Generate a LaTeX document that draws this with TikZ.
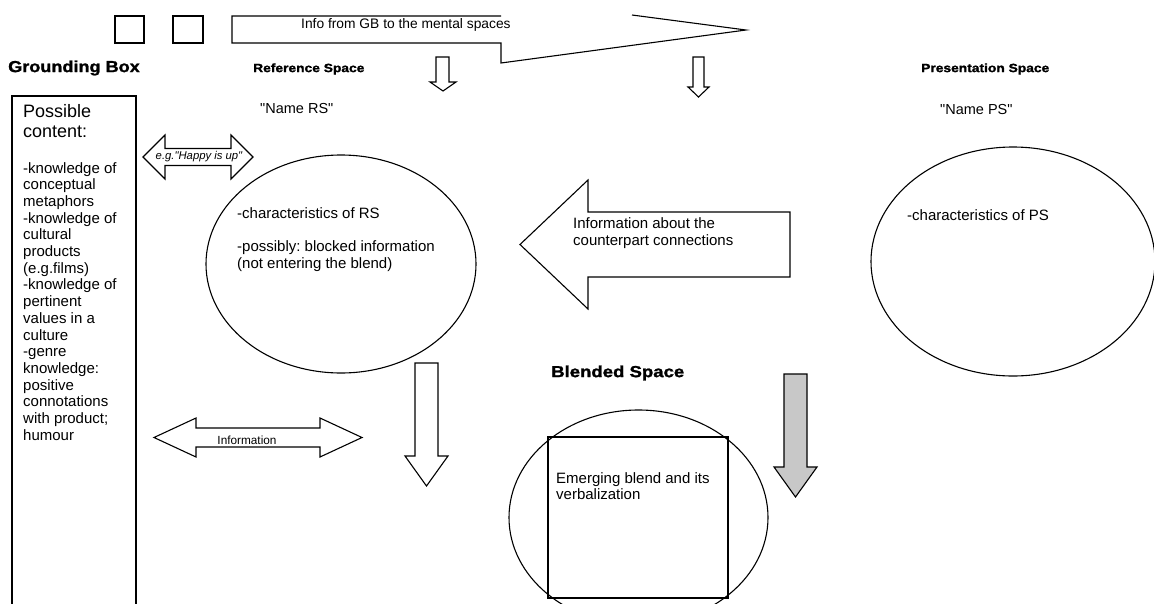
\documentclass[tikz,border=0pt]{standalone}
\usepackage{fontspec}
\setmainfont{Liberation Sans}[Ligatures=TeXOff]
\newfontfamily\heavyfont[FakeBold=1.3]{Liberation Sans Bold}
\newcommand\myhead[3]{\scalebox{#3}[1]{\fontsize{#1}{#1}\selectfont\heavyfont #2}}
\frenchspacing
\begin{document}
\begin{tikzpicture}[x=1pt,y=-1pt,
  shp/.style={draw=black,line width=1.1pt,line join=miter},
  txt/.style={inner sep=0pt,anchor=north west,align=left,font=\fontsize{15}{16.7}\selectfont},
  lbl/.style={inner sep=0pt,anchor=west}]
\clip (0,0) rectangle (1154,603);
\fill[white] (0,0) rectangle (1154,603);

% top small boxes and callout
\draw[shp] (115,16) rectangle (144,43);
\draw[shp] (173,16) rectangle (203,43);
\draw[shp] (501,16) -- (232,16) -- (232,43) -- (501,43) -- (501,63) -- (746,30) -- (632,15);
\node[lbl,font=\fontsize{13.8}{15}\selectfont] (info) at (301,25) {Info from GB to the mental spaces};

% small down arrows
\draw[shp] (436,57) -- (449,57) -- (449,82) -- (456,82) -- (443,91) -- (430,82) -- (436,82) -- cycle;
\draw[shp] (693,57) -- (704,57) -- (704,87) -- (709,87) -- (698.5,97) -- (688,87) -- (693,87) -- cycle;

% headings
\node[lbl] (gbh) at (8,68) {\myhead{16}{Grounding Box}{1.13}};
\node[lbl] (rsh) at (253,69) {\myhead{12}{Reference Space}{1.15}};
\node[lbl] (psh) at (921,69) {\myhead{12}{Presentation Space}{1.15}};
\node[lbl] (bsh) at (551,373) {\myhead{16}{Blended Space}{1.16}};

\node[lbl,font=\fontsize{14.5}{16}\selectfont] (nrs) at (260,108.5) {"Name RS"};
\node[lbl,font=\fontsize{14.5}{16}\selectfont] (nps) at (940,110) {"Name PS"};

% grounding box
\draw[shp] (12,96) rectangle (136,640);
\node[txt,font=\fontsize{18}{20}\selectfont] (poss) at (23,104) {Possible\\content:};
\node[txt] (gbtext) at (23,162) {-knowledge of\\conceptual\\metaphors\\-knowledge of\\cultural\\products\\(e.g.films)\\-knowledge of\\pertinent\\values in a\\culture\\-genre\\knowledge:\\positive\\connotations\\with product;\\humour};

% e.g. double arrow
\draw[shp] (143,157) -- (165,135) -- (165,148.5) -- (231,148.5) -- (231,135) -- (253,157) -- (231,179) -- (231,165.5) -- (165,165.5) -- (165,179) -- cycle;
\node[inner sep=0pt,font=\fontsize{11.3}{12}\selectfont\itshape] (eg) at (199,157) {e.g."Happy is up"};

% Information double arrow
\draw[shp] (154,437.5) -- (196,418) -- (196,428) -- (320,428) -- (320,418) -- (362,437.5) -- (320,457) -- (320,447) -- (196,447) -- (196,457) -- cycle;
\node[inner sep=0pt,font=\fontsize{11.8}{13}\selectfont] (infor) at (247,440) {Information};

% RS ellipse
\draw[shp] (341,264) ellipse [x radius=135pt, y radius=109pt];
\node[txt] (rstext) at (237,207) {-characteristics of RS\\[16.7pt]-possibly: blocked information\\(not entering the blend)};

% PS ellipse
\draw[shp] (1013,261.5) ellipse [x radius=142pt, y radius=114.5pt];
\node[txt] (pstext) at (907,209) {-characteristics of PS};

% counterpart arrow
\draw[shp] (520,244.5) -- (588,180) -- (588,212) -- (790,212) -- (790,277) -- (588,277) -- (588,309) -- cycle;
\node[txt,font=\fontsize{15}{17}\selectfont] (cp) at (573,217) {Information about the\\counterpart connections};

% RS down arrow
\draw[shp] (415,363) -- (438,363) -- (438,456) -- (448,456) -- (426.5,486) -- (405,456) -- (415,456) -- cycle;

% gray down arrow
\definecolor{arrgray}{RGB}{200,200,200}
\draw[shp,fill=arrgray] (784,374) -- (807,374) -- (807,467) -- (817,467) -- (795.5,497) -- (774,467) -- (784,467) -- cycle;

% blended space
\draw[shp] (638.5,517.5) ellipse [x radius=129.5pt, y radius=107.5pt];
\draw[shp] (548,437) rectangle (728,598);
\node[txt] (bltext) at (556,472) {Emerging blend and its\\verbalization};
\end{tikzpicture}
\end{document}
